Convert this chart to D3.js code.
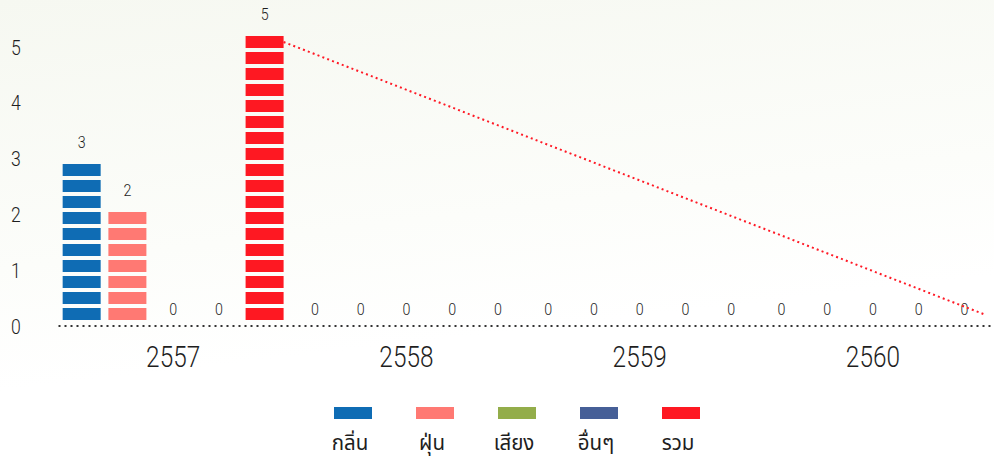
<!DOCTYPE html>
<html>
<head>
<meta charset="utf-8">
<script src="https://cdn.jsdelivr.net/npm/d3@7"></script>
<style>
  html, body { margin: 0; padding: 0; background: #ffffff; }
  svg { display: block; }
  .num { font-family: "Roboto", "Liberation Sans", sans-serif; font-weight: 300; fill: #1e1e1e; }
  .thai { font-family: "Noto Sans Thai", "Noto Sans Thai Looped", "Noto Sans", sans-serif; fill: #1e1e1e; }
</style>
</head>
<body>
<svg id="chart" width="994" height="460"></svg>
<script>
// Complaint counts per year, by complaint type
const years = ["2557", "2558", "2559", "2560"];
const series = ["กลิ่น", "ฝุ่น", "เสียง", "อื่นๆ", "รวม"];
const odour = [3, 0, 0, 0];
const dust = [2, 0, 0, 0];
const noise = [0, 0, 0, 0];
const other = [0, 0, 0, 0];
const total = [5, 0, 0, 0];
const yTicks = [0, 1, 2, 3, 4, 5];
const colors = ["#0f6cb4", "#ff7973", "#93ad4a", "#465f97", "#fe1822"];

const valuesBySeries = [odour, dust, noise, other, total];

const W = 994, H = 460;
const NARROW = 0.84; // horizontal squeeze for the condensed numerals
const svg = d3.select("#chart");

// soft background wash
const defs = svg.append("defs");
const bg = defs.append("linearGradient").attr("id", "bg")
  .attr("x1", "0").attr("y1", "0").attr("x2", "0.25").attr("y2", "1");
bg.append("stop").attr("offset", "0").attr("stop-color", "#f6f8f1");
bg.append("stop").attr("offset", "0.55").attr("stop-color", "#fcfdfa");
bg.append("stop").attr("offset", "0.8").attr("stop-color", "#ffffff");
svg.append("rect").attr("width", W).attr("height", H).attr("fill", "url(#bg)");

// scales
const x0 = d3.scaleBand().domain(years).range([56.5, 989.5]).paddingInner(0).paddingOuter(0);
const x1 = d3.scaleBand().domain(series).range([0, x0.bandwidth()]).paddingOuter(0.05).paddingInner(0);
const y = d3.scaleLinear().domain([0, 5]).range([320, 36]);
const yTickPos = d3.scaleLinear().domain([0, 5]).range([325.5, 46.5]);

const barW = 38, segH = 12, segGap = 4, period = segH + segGap;

// flatten rows
const rows = [];
years.forEach((yr, i) => {
  series.forEach((s, j) => {
    const v = valuesBySeries[j][i];
    const h = y(0) - y(v);
    const n = Math.floor((h + segGap) / period + 1e-6);
    rows.push({ year: yr, series: s, value: v, n, color: colors[j],
      cx: x0(yr) + x1(s) + x1.bandwidth() / 2 });
  });
});

// y axis labels
const yAxis = d3.axisLeft(yTickPos).tickValues(yTicks).tickFormat(d3.format("d")).tickSize(0).tickPadding(0);
const gy = svg.append("g").attr("transform", "translate(16,0)").call(yAxis);
gy.select(".domain").remove();
gy.selectAll("text").attr("class", "num").attr("font-size", 21).attr("font-weight", 400)
  .attr("text-anchor", "middle").attr("x", 0).attr("dy", "0.36em")
  .attr("transform", `scale(${NARROW},1)`);

// x axis: dotted baseline + year labels
const xAxis = d3.axisBottom(x0).tickSize(0).tickPadding(0);
const gx = svg.append("g").attr("transform", "translate(0,326)").call(xAxis);
gx.select(".domain").remove();
gx.append("line").attr("x1", x0.range()[0] + 2).attr("x2", W).attr("y1", 0).attr("y2", 0)
  .attr("stroke", "#333").attr("stroke-width", 2).attr("stroke-dasharray", "2,4");
gx.selectAll(".tick text").attr("class", "num").attr("y", 41).attr("dy", 0).attr("font-size", 29)
  .attr("transform", `scale(${NARROW},1)`);

// pictorial bars made of stacked segments
const bars = svg.append("g");
rows.forEach(r => {
  const segs = d3.range(r.n);
  bars.selectAll(null).data(segs).enter().append("rect")
    .attr("x", r.cx - barW / 2)
    .attr("y", k => y(0) - segH - k * period)
    .attr("width", barW).attr("height", segH)
    .attr("fill", r.color);
  r.top = r.n > 0 ? y(0) - r.n * period + segGap : y(0);
});

// value labels
svg.append("g").selectAll("text").data(rows).enter().append("text")
  .attr("class", "num")
  .attr("transform", d => `translate(${d.cx},${d.top - (d.n > 0 ? 16 : 5)}) scale(${NARROW},1)`)
  .attr("text-anchor", "middle").attr("font-size", 17).attr("font-weight", 400)
  .text(d => d.value);

// dotted trend of the total: top segment of first year to last year
const totals = rows.filter(r => r.series === "รวม");
const ends = [totals[0], totals[totals.length - 1]];
svg.append("path")
  .datum(ends)
  .attr("d", d3.line().x(d => d.cx + barW / 2).y(d => (d.n > 0 ? d.top : y(0) - segH) + segH / 2))
  .attr("fill", "none").attr("stroke", "#ff1a26").attr("stroke-width", 2)
  .attr("stroke-dasharray", "2,3.2");

// legend
const lx = d3.scalePoint().domain(series).range([353, 681]);
const lg = svg.append("g").selectAll("g").data(series).enter().append("g")
  .attr("transform", d => `translate(${lx(d)},0)`);
lg.append("rect").attr("x", -barW / 2).attr("y", 407).attr("width", barW).attr("height", 12)
  .attr("fill", (d, i) => colors[i]);
lg.append("text").attr("class", "thai").attr("x", -3).attr("y", 450)
  .attr("text-anchor", "middle").attr("font-size", 20.5).attr("font-weight", 400).text(d => d);
</script>
</body>
</html>
